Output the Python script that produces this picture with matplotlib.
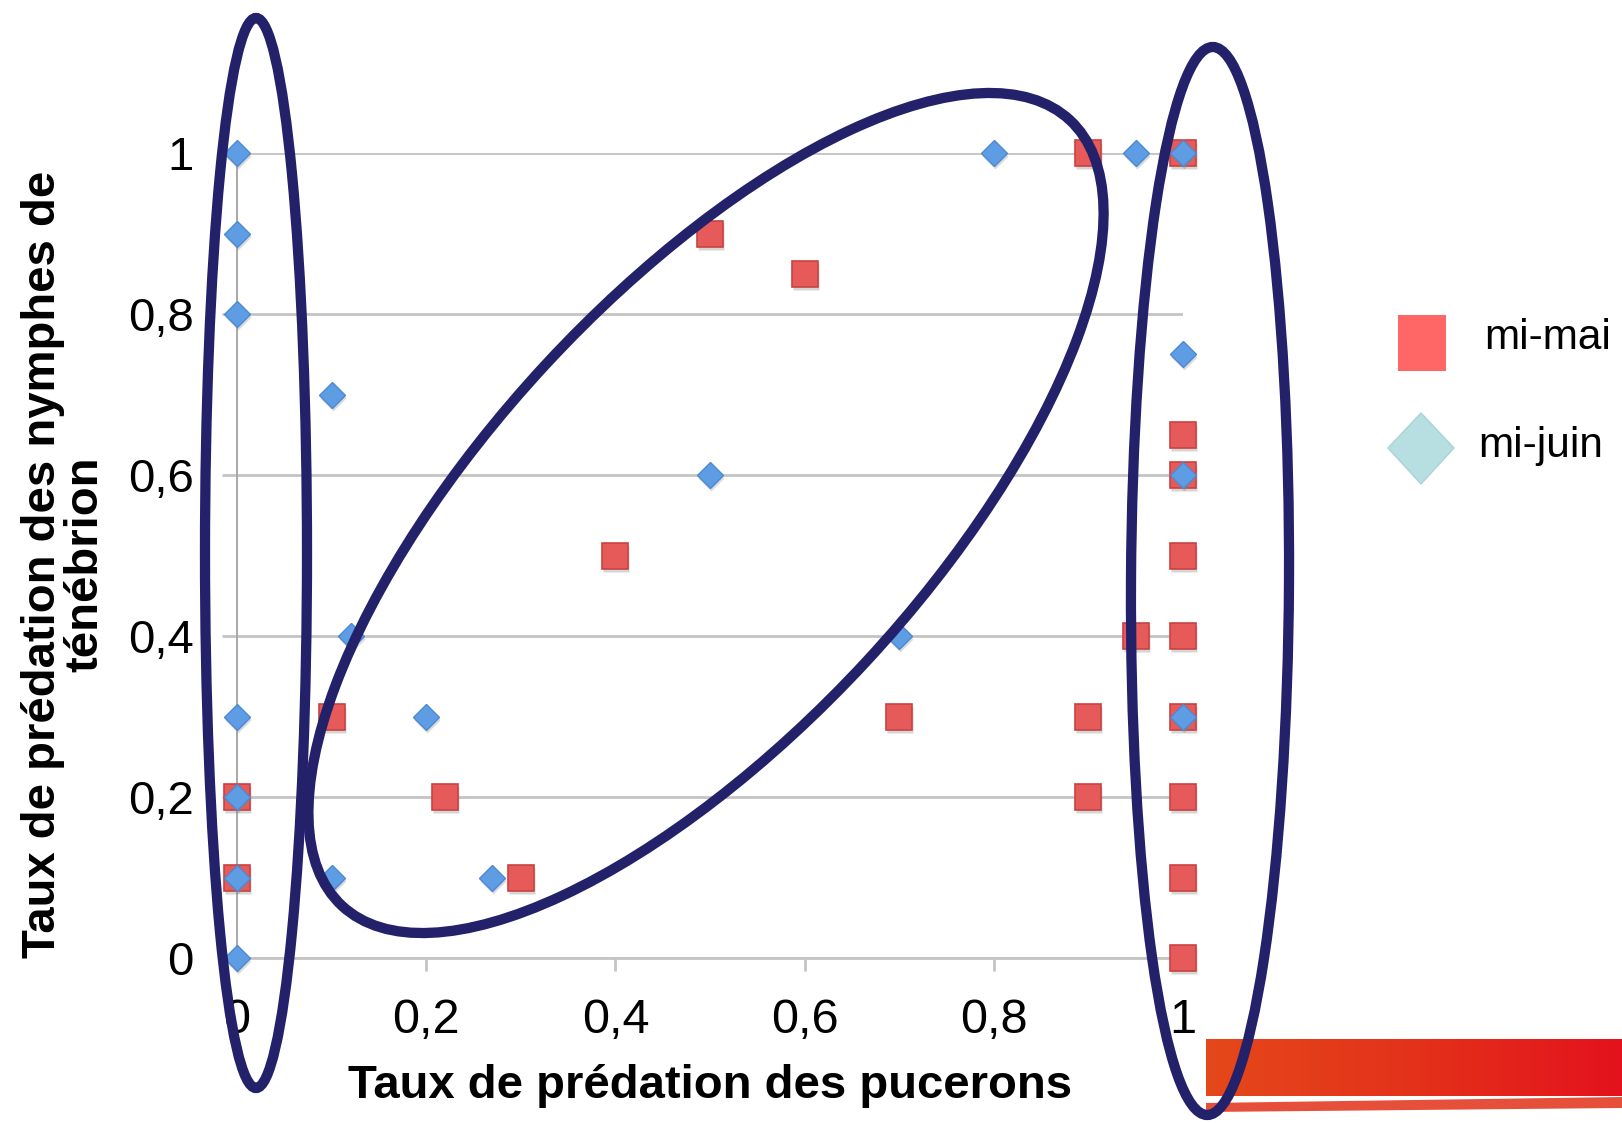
import numpy as np
import matplotlib
matplotlib.use("Agg")
import matplotlib.pyplot as plt
from matplotlib import transforms
from matplotlib.patches import Ellipse, Rectangle, Polygon
from matplotlib.colors import LinearSegmentedColormap

# mi-mai (red squares)
mai_x = [0, 0, 0.1, 0.22, 0.3, 0.4, 0.5, 0.6, 0.7, 0.9, 0.9, 0.9, 0.95,
         1, 1, 1, 1, 1, 1, 1, 1, 1]
mai_y = [0.2, 0.1, 0.3, 0.2, 0.1, 0.5, 0.9, 0.85, 0.3, 1, 0.3, 0.2, 0.4,
         1, 0.65, 0.6, 0.5, 0.4, 0.3, 0.2, 0.1, 0]

# mi-juin (blue diamonds)
juin_x = [0, 0, 0, 0.1, 0.12, 0, 0.2, 0, 0, 0.1, 0.27, 0, 0.5, 0.7,
          0.8, 0.95, 1, 1, 1, 1]
juin_y = [1, 0.9, 0.8, 0.7, 0.4, 0.3, 0.3, 0.2, 0.1, 0.1, 0.1, 0, 0.6, 0.4,
          1, 1, 1, 0.75, 0.6, 0.3]

ticks = [0, 0.2, 0.4, 0.6, 0.8, 1]
tick_labels = ["0", "0,2", "0,4", "0,6", "0,8", "1"]
series_labels = ["mi-mai", "mi-juin"]

W, H = 1622, 1123
DPI = 100
fig = plt.figure(figsize=(W / DPI, H / DPI), dpi=DPI)
fig.patch.set_facecolor("white")

# plot area in pixels: x 237..1183, y 153..958 (from top)
ax = fig.add_axes([237 / W, (H - 958) / H, (1183 - 237) / W, (958 - 153) / H])
ax.set_xlim(0, 1)
ax.set_ylim(0, 1)
ax.set_facecolor("none")

grid_col = "#c4c4c4"
for s in ["top", "right"]:
    ax.spines[s].set_visible(False)
ax.spines["bottom"].set_color(grid_col)
ax.spines["bottom"].set_linewidth(2.0)
ax.spines["left"].set_color("#a8a8a8")
ax.spines["left"].set_linewidth(1.4)
ax.yaxis.grid(True, color=grid_col, linewidth=2.0)
ax.set_axisbelow(True)

ax.set_xticks(ticks)
ax.set_yticks(ticks)
ax.set_xticklabels(tick_labels, family="Liberation Sans", fontsize=35)
ax.set_yticklabels(tick_labels, family="Liberation Sans", fontsize=34)
ax.tick_params(axis="y", length=11, width=2, color=grid_col, pad=20)
ax.tick_params(axis="x", length=9, width=2, color=grid_col, pad=20)

# soft drop shadow under markers
shadow = transforms.offset_copy(ax.transData, fig=fig, x=1, y=-3, units="dots")
ax.plot(mai_x, mai_y, ls="none", marker="s", ms=18.5, mfc="#888888", mec="none",
        alpha=0.35, transform=shadow, clip_on=False, zorder=3)
ax.plot(mai_x, mai_y, ls="none", marker="s", ms=18.5, mfc="#e65a5a", mec="#c94242",
        mew=1.2, clip_on=False, zorder=4, label=series_labels[0])
ax.plot(juin_x, juin_y, ls="none", marker="D", ms=13, mfc="#888888", mec="none",
        alpha=0.3, transform=shadow, clip_on=False, zorder=5)
ax.plot(juin_x, juin_y, ls="none", marker="D", ms=13, mfc="#5e9de3", mec="#4d89d2",
        mew=1.0, clip_on=False, zorder=6, label=series_labels[1])

fig.text(710 / W, 1 - 1086 / H, "Taux de prédation des pucerons", ha="center",
         va="center", fontsize=34, fontweight="bold", family="Liberation Sans")
fig.text(64 / W, 1 - 564 / H, "Taux de prédation des nymphes de\nténébrion",
         ha="center", va="center", rotation=90, fontsize=34, fontweight="bold",
         family="Liberation Sans", linespacing=0.95, multialignment="center")

# overlay in pixel coordinates (y up) for the annotations
ov = fig.add_axes([0, 0, 1, 1], zorder=10)
ov.axis("off")
ov.patch.set_alpha(0)

# red banner bottom right
grad = np.linspace(0, 1, 256).reshape(1, -1)
banner = LinearSegmentedColormap.from_list("banner", ["#e5481a", "#e3321a", "#e3121d"])
ov.imshow(grad, cmap=banner, aspect="auto", extent=[1206, W, H - 1096, H - 1039], zorder=1)
ov.add_patch(Polygon([[1206, H - 1103], [W, H - 1097], [W, H - 1108], [1206, H - 1112]],
                     closed=True, fc="#e6503a", ec="none", zorder=1))
ov.set_xlim(0, W)
ov.set_ylim(0, H)

navy = "#23216a"
lw = 7.4
ov.add_patch(Ellipse((256, H - 553), 102, 1070, angle=0, fill=False, ec=navy, lw=lw, zorder=5))
ov.add_patch(Ellipse((1210, H - 581), 158, 1068, angle=-0.3, fill=False, ec=navy, lw=lw, zorder=5))
ov.add_patch(Ellipse((706, H - 513), 1071, 437, angle=47.2, fill=False, ec=navy, lw=lw, zorder=5))

# legend
ov.add_patch(Rectangle((1398, H - 371), 48, 56, fc="#ff6666", ec="none", zorder=5))
ov.add_patch(Polygon([[1388, H - 448], [1421, H - 413], [1454, H - 448], [1421, H - 484]],
                     closed=True, fc="#b7dfe1", ec="#a9d3d6", lw=1, zorder=5))
ov.text(1484, H - 338, series_labels[0], ha="left", va="center", fontsize=30.5,
        family="Liberation Sans")
ov.text(1478, H - 446, series_labels[1], ha="left", va="center", fontsize=30.5,
        family="Liberation Sans")

fig.savefig("out.png", dpi=DPI)
